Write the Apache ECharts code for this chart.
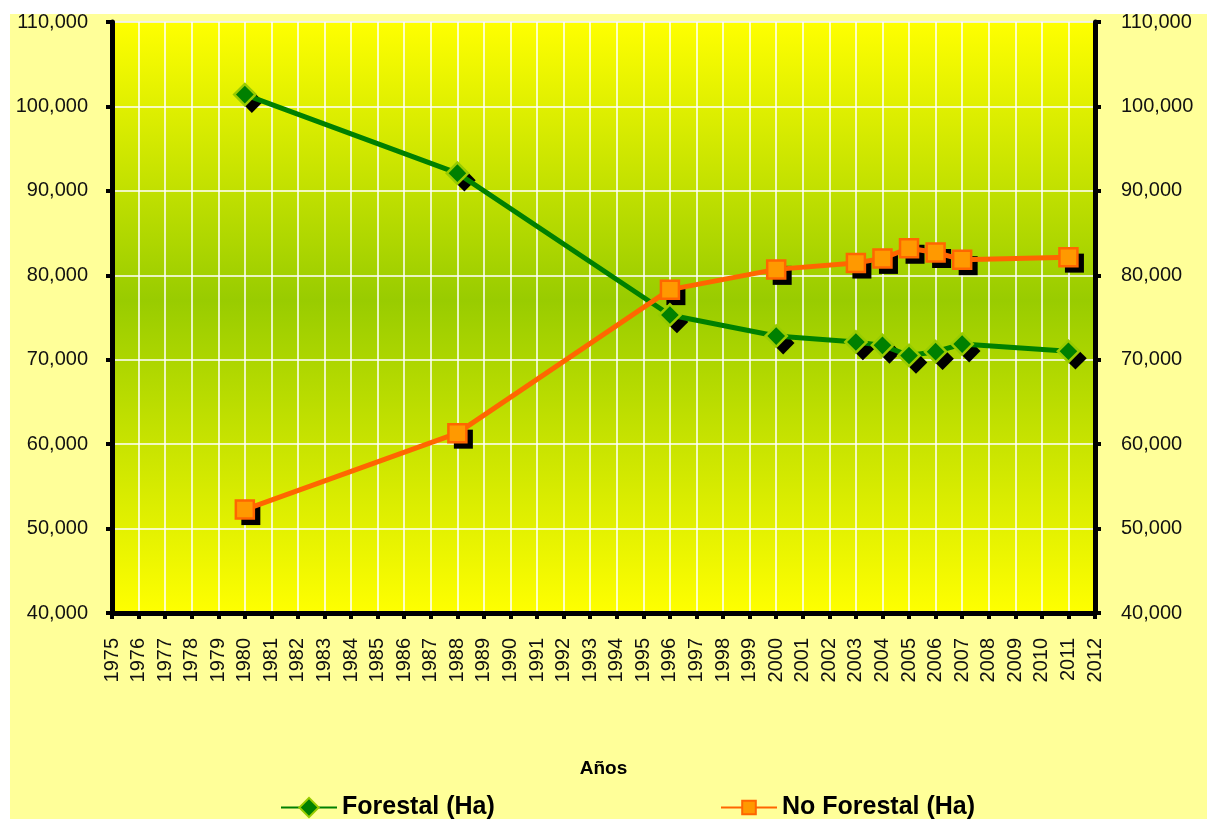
<!DOCTYPE html>
<html>
<head>
<meta charset="utf-8">
<script src="https://cdn.jsdelivr.net/npm/echarts@6/dist/echarts.min.js"></script>
<style>
html,body{margin:0;padding:0;background:#fff;width:1207px;height:819px;overflow:hidden;}
#chart{position:absolute;left:10px;top:14px;width:1197px;height:805px;background:#FFFF99;}
</style>
</head>
<body>
<div id="chart"></div>
<script>
const years = [1980, 1988, 1996, 2000, 2003, 2004, 2005, 2006, 2007, 2011];
const forestal = [101400, 92100, 75300, 72800, 72100, 71700, 70500, 70950, 71850, 71000];
const noForestal = [52250, 61300, 78300, 80700, 81450, 82000, 83200, 82700, 81850, 82150];
const seriesNames = ['Forestal (Ha)', 'No Forestal (Ha)'];
const xAxisTitle = 'Años';
const yAxisTitle = 'Ha';
const xMin = 1975, xMax = 2012;
const yMin = 40000, yMax = 110000, yStep = 10000;

const chart = echarts.init(document.getElementById('chart'), null, {renderer: 'canvas'});
const fmt = v => v.toLocaleString('en-US');
const font = 'Liberation Sans, Arial, sans-serif';
const axisLine = {show: true, lineStyle: {color: '#000', width: 5}};
const axisTick = {show: true, inside: false, length: 6, lineStyle: {color: '#000', width: 4}};
const legendText = {fontFamily: font, fontWeight: 'bold', fontSize: 25, color: '#000'};
const fData = years.map((y, i) => [y, forestal[i]]);
const nData = years.map((y, i) => [y, noForestal[i]]);

const option = {
  animation: false,
  grid: {
    left: 102, right: 112, top: 8, bottom: 206,
    containLabel: false,
    outerBoundsMode: 'none',
    show: true,
    borderColor: '#999', borderWidth: 1,
    backgroundColor: {
      type: 'linear', x: 0, y: 0, x2: 0, y2: 1,
      colorStops: [
        {offset: 0, color: '#FFFF00'},
        {offset: 0.47, color: '#99CC00'},
        {offset: 1, color: '#FFFF00'}
      ]
    }
  },
  legend: [
    {
      left: 270, top: 781, padding: 0, data: [seriesNames[0]],
      itemWidth: 56, itemHeight: 17, itemGap: 0,
      textStyle: legendText
    },
    {
      left: 710, top: 781, padding: 0, data: [seriesNames[1]],
      itemWidth: 56, itemHeight: 17, itemGap: 0,
      textStyle: legendText
    }
  ],
  xAxis: {
    type: 'value', min: xMin, max: xMax, interval: 1,
    name: xAxisTitle, nameLocation: 'middle', nameGap: 146,
    nameTextStyle: {fontFamily: font, fontWeight: 'bold', fontSize: 19, color: '#000'},
    axisLine: axisLine, axisTick: axisTick,
    axisLabel: {rotate: 90, margin: 25, fontFamily: font, fontSize: 20, color: '#111',
      formatter: v => String(v), showMinLabel: true, showMaxLabel: true},
    splitLine: {show: true, lineStyle: {color: '#fff', width: 1.5}}
  },
  yAxis: [
    {
      type: 'value', min: yMin, max: yMax, interval: yStep, position: 'left',
      name: yAxisTitle, nameLocation: 'middle', nameGap: 88,
      nameTextStyle: {fontFamily: font, fontWeight: 'bold', fontSize: 20, color: '#000'},
      axisLine: axisLine, axisTick: axisTick,
      axisLabel: {margin: 24, fontFamily: font, fontSize: 20, color: '#111', formatter: fmt},
      splitLine: {show: true, lineStyle: {color: '#fff', width: 1.5}}
    },
    {
      type: 'value', min: yMin, max: yMax, interval: yStep, position: 'right',
      axisLine: axisLine, axisTick: axisTick,
      axisLabel: {margin: 26, fontFamily: font, fontSize: 20, color: '#111', formatter: fmt},
      splitLine: {show: false}
    }
  ],
  series: [
    {
      name: 'shadowF', type: 'scatter', data: fData,
      symbol: 'rect', symbolSize: 16, symbolRotate: 45, symbolOffset: [7, 7],
      itemStyle: {color: '#000', opacity: 1}, silent: true, z: 1
    },
    {
      name: 'shadowN', type: 'scatter', data: nData,
      symbol: 'rect', symbolSize: 19, symbolOffset: [6, 6],
      itemStyle: {color: '#000', opacity: 1}, silent: true, z: 1
    },
    {
      name: seriesNames[0], type: 'line', data: fData,
      symbol: 'rect', symbolSize: 15, symbolRotate: 45,
      lineStyle: {color: '#008000', width: 5},
      itemStyle: {color: '#008000', borderColor: '#99CC00', borderWidth: 2.5},
      z: 3
    },
    {
      name: seriesNames[1], type: 'line', data: nData,
      symbol: 'rect', symbolSize: 18,
      lineStyle: {color: '#FF6600', width: 5},
      itemStyle: {color: '#FF9900', borderColor: '#FF6600', borderWidth: 2.5},
      z: 4
    }
  ]
};
chart.setOption(option);
</script>
</body>
</html>
